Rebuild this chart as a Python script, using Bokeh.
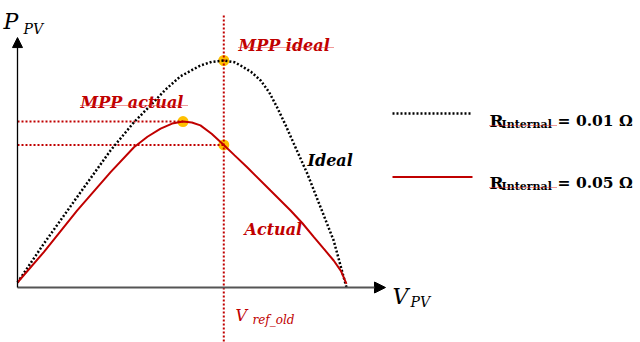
from bokeh.plotting import figure
from bokeh.models import Range1d, Arrow, NormalHead
from bokeh.core.properties import value
from bokeh.embed import file_html
from bokeh.resources import INLINE

# ---- data (normalised: V / Voc, P / P_mpp_ideal) ----
v_ideal = [0.0, 0.080, 0.181, 0.283, 0.354, 0.404, 0.450, 0.495, 0.556, 0.590,
           0.627, 0.660, 0.678, 0.710, 0.739, 0.765, 0.789, 0.815, 0.840,
           0.881, 0.921, 0.961, 1.0]
p_ideal = [0.022, 0.193, 0.398, 0.604, 0.728, 0.802, 0.872, 0.930, 0.978, 0.994,
           1.000, 0.992, 0.978, 0.950, 0.912, 0.860, 0.794, 0.715, 0.633,
           0.501, 0.354, 0.207, 0.0]
v_actual = [0.0, 0.080, 0.181, 0.283, 0.354, 0.395, 0.435, 0.470, 0.503, 0.530,
            0.556, 0.590, 0.627, 0.660, 0.698, 0.769, 0.830, 0.866, 0.901,
            0.930, 0.961, 0.983, 1.0]
p_actual = [0.022, 0.156, 0.339, 0.508, 0.618, 0.664, 0.700, 0.722, 0.731, 0.727,
            0.714, 0.677, 0.628, 0.582, 0.530, 0.427, 0.339, 0.283, 0.222,
            0.172, 0.119, 0.073, 0.016]
mpp_v = [0.627, 0.503, 0.627]      # MPP ideal, MPP actual, actual at V_ref_old
mpp_p = [1.000, 0.731, 0.628]
v_ref_old = 0.627
v_axis_end = 1.1185
p_axis_end = 1.101

RED = "#C00000"
GOLD = "#FFC000"
SERIF = "DejaVu Serif"

# helpers mapping reference-pixel layout to data coords (for annotations only)
def X(px):
    return (px - 17) / 329.0

def Y(py):
    return (287 - py) / 227.0

p = figure(width=640, height=342, output_backend="svg", toolbar_location=None,
           x_range=Range1d(X(0), X(640)), y_range=Range1d(Y(342), Y(0)),
           min_border=0)
p.axis.visible = False
p.grid.visible = False
p.outline_line_color = None
p.background_fill_color = "white"

# axes with arrows
p.add_layout(Arrow(x_start=0, y_start=0, x_end=v_axis_end, y_end=0,
                   line_color="#555555", line_width=2,
                   end=NormalHead(size=11, fill_color="black", line_color="black")))
p.add_layout(Arrow(x_start=0, y_start=0, x_end=0, y_end=p_axis_end,
                   line_color="black", line_width=1.3,
                   end=NormalHead(size=10, fill_color="black", line_color="black")))

# MPP markers
p.scatter(mpp_v, mpp_p, size=11, fill_color=GOLD, line_color=None)

# reference lines
p.line([v_ref_old, v_ref_old], [Y(345), Y(15)], line_color=RED, line_width=2,
       line_dash="2 2")
p.line([0, mpp_v[1]], [mpp_p[1], mpp_p[1]], line_color=RED, line_width=2,
       line_dash="2 2")
p.line([0, mpp_v[2]], [mpp_p[2], mpp_p[2]], line_color=RED, line_width=2,
       line_dash="2 2")

# curves
p.line(v_ideal, p_ideal, line_color="black", line_width=2.5, line_dash="2 2")
p.line(v_actual, p_actual, line_color=RED, line_width=2)

def txt(px, py, s, color="black", size="16px", style="bold italic", font=SERIF):
    p.text([X(px)], [Y(py)], text=[s], text_color=color, text_font=value(font),
           text_font_size=size, text_font_style=style,
           text_align="left", text_baseline="alphabetic")

def squiggle(px0, px1, py):
    p.line([X(px0), X(px1)], [Y(py), Y(py)], line_color="#E03030",
           line_width=1, line_dash="1 1")

# labels
txt(238, 45, "MPP ideal", RED)
squiggle(238, 333, 47)
txt(80, 102, "MPP actual", RED)
squiggle(80, 187, 105)
txt(307, 160, "Ideal", "black")
txt(244, 229, "Actual", RED)

txt(235, 315, "V", RED, "16px", "italic")
txt(252, 319, "ref_old", RED, "12px", "italic")

txt(3, 21, "P", "black", "22px", "italic")
txt(23, 28, "PV", "black", "14px", "italic")
txt(392, 296, "V", "black", "22px", "italic")
txt(410, 301, "PV", "black", "14px", "italic")

# legend
p.line([X(392), X(472)], [Y(113), Y(113)], line_color="black", line_width=2.5,
       line_dash="2 2")
p.line([X(392), X(472)], [Y(176.5), Y(176.5)], line_color=RED, line_width=2)
for base, val in ((120, "= 0.01 Ω"), (182, "= 0.05 Ω")):
    txt(489, base, "R", "black", "17px", "bold")
    txt(501, base + 3.5, "Internal", "black", "11px", "bold")
    txt(557, base, val, "black", "15.5px", "bold")
    squiggle(489, 556, base + 5)

open("out.html", "w").write(file_html(p, INLINE))
